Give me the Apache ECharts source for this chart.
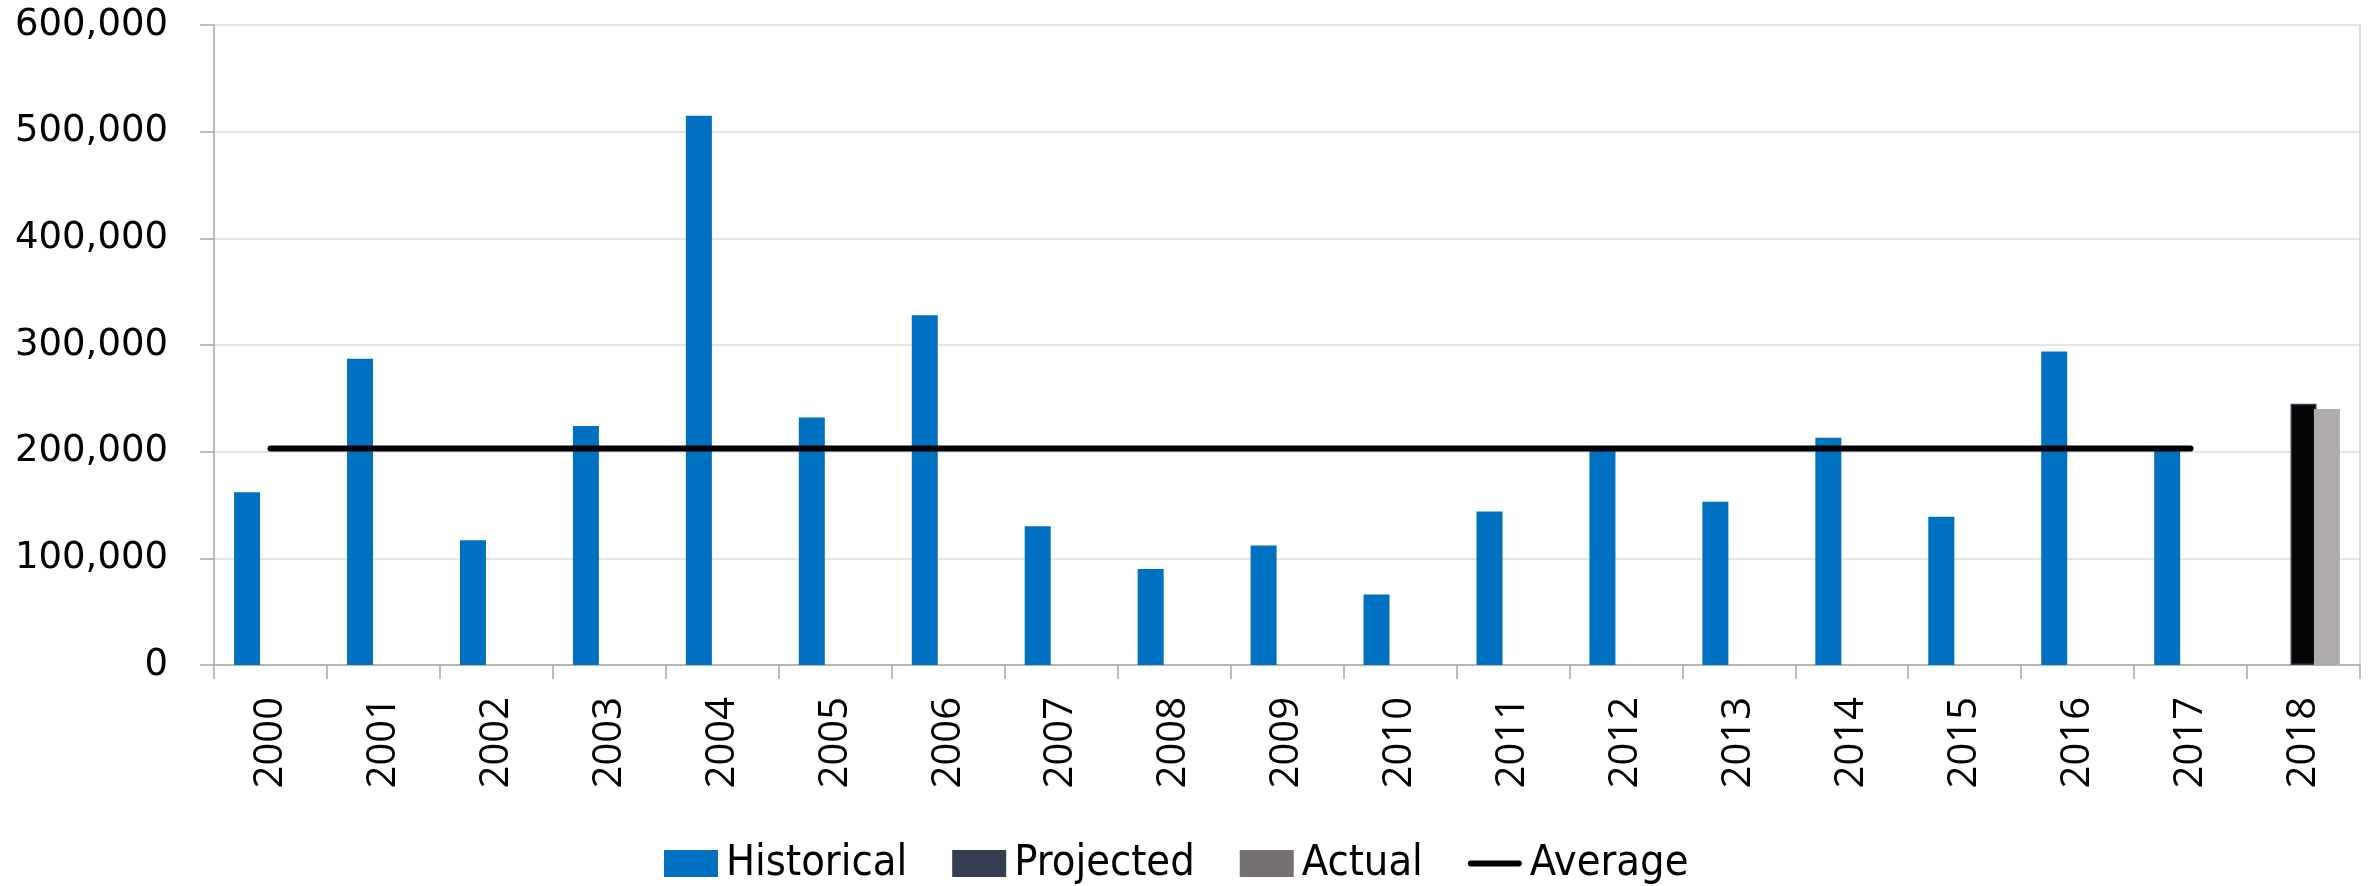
<!DOCTYPE html>
<html>
<head>
<meta charset="utf-8">
<script src="https://cdn.jsdelivr.net/npm/echarts@6/dist/echarts.min.js"></script>
<style>
  html, body { margin: 0; padding: 0; background: #ffffff; }
  #chart { width: 2374px; height: 886px; }
</style>
</head>
<body>
<div id="chart"></div>
<script>
const years = ['2000','2001','2002','2003','2004','2005','2006','2007','2008','2009','2010','2011','2012','2013','2014','2015','2016','2017','2018'];
const historical = [162000, 287000, 117000, 224000, 515000, 232000, 328000, 130000, 90000, 112000, 66000, 144000, 204000, 153000, 213000, 139000, 294000, 203000, null];
const projected = [null, null, null, null, null, null, null, null, null, null, null, null, null, null, null, null, null, null, 245000];
const actual = [null, null, null, null, null, null, null, null, null, null, null, null, null, null, null, null, null, null, 240000];
const average = [203000, 203000, 203000, 203000, 203000, 203000, 203000, 203000, 203000, 203000, 203000, 203000, 203000, 203000, 203000, 203000, 203000, 203000, null];
const yTicks = [0, 100000, 200000, 300000, 400000, 500000, 600000];

const chart = echarts.init(document.getElementById('chart'), null, { renderer: 'canvas' });

function fmt(v) { return v.toLocaleString('en-US'); }

const option = {
  backgroundColor: '#ffffff',
  animation: false,
  grid: { left: 214, right: 14, top: 25, bottom: 221, containLabel: false },
  legend: {
    left: 664,
    top: 842,
    padding: 0,
    itemWidth: 54,
    itemHeight: 27,
    itemGap: 45,
    symbolKeepAspect: true,
    textStyle: { fontFamily: '"DejaVu Sans Condensed", "Open Sans", sans-serif', fontSize: 43, color: '#000000', padding: [0, 0, 0, 3] },
    data: [
      { name: 'Historical', icon: 'rect' },
      { name: 'Projected', icon: 'rect' },
      { name: 'Actual', icon: 'rect' },
      { name: 'Average', icon: 'path://M3,0 L51,0 A3,3 0 0 1 51,6 L3,6 A3,3 0 0 1 3,0 Z', itemStyle: { color: '#000000' } }
    ]
  },
  xAxis: {
    type: 'category',
    data: years,
    boundaryGap: true,
    axisLine: { show: true, lineStyle: { color: '#A6A6A6', width: 1.5 } },
    axisTick: { show: true, length: 14, lineStyle: { color: '#A6A6A6', width: 1.5 } },
    axisLabel: {
      rotate: 90,
      margin: 32,
      fontFamily: '"Open Sans", sans-serif',
      fontSize: 40,
      color: '#000000'
    },
    splitLine: { show: false }
  },
  yAxis: [
    {
      type: 'value',
      min: 0,
      max: 600000,
      interval: 100000,
      axisLine: { show: true, lineStyle: { color: '#A6A6A6', width: 1.5 } },
      axisTick: { show: true, length: 14, lineStyle: { color: '#A6A6A6', width: 1.5 } },
      axisLabel: {
        margin: 46,
        fontFamily: '"DejaVu Sans", sans-serif',
        fontSize: 37,
        color: '#000000',
        formatter: function (v) { return yTicks.indexOf(v) >= 0 ? fmt(v) : ''; }
      },
      splitLine: { show: true, lineStyle: { color: '#DCDCDC', width: 1.5 } }
    },
    {
      type: 'value',
      position: 'right',
      min: 0,
      max: 600000,
      interval: 100000,
      axisLine: { show: true, lineStyle: { color: '#CFCFCF', width: 1.5 } },
      axisTick: { show: false },
      axisLabel: { show: false },
      splitLine: { show: false }
    }
  ],
  series: [
    {
      name: 'Historical',
      type: 'bar',
      data: historical,
      barWidth: 26,
      barGap: '-10%',
      itemStyle: { color: '#0070C0' }
    },
    {
      name: 'Projected',
      type: 'bar',
      data: projected.map(v => v == null ? null : { value: v, itemStyle: { color: '#050505', borderColor: '#333F50', borderWidth: 1.5 } }),
      barWidth: 26,
      barGap: '-10%',
      itemStyle: { color: '#333F50' }
    },
    {
      name: 'Actual',
      type: 'bar',
      data: actual.map(v => v == null ? null : { value: v, itemStyle: { color: '#AFABAB' } }),
      barWidth: 26,
      barGap: '-10%',
      itemStyle: { color: '#767171' }
    },
    {
      name: 'Average',
      type: 'line',
      data: average,
      symbol: 'none',
      showSymbol: false,
      lineStyle: { color: '#000000', width: 6, cap: 'round' },
      itemStyle: { color: '#000000' },
      z: 5
    }
  ]
};

chart.setOption(option);
</script>
</body>
</html>
